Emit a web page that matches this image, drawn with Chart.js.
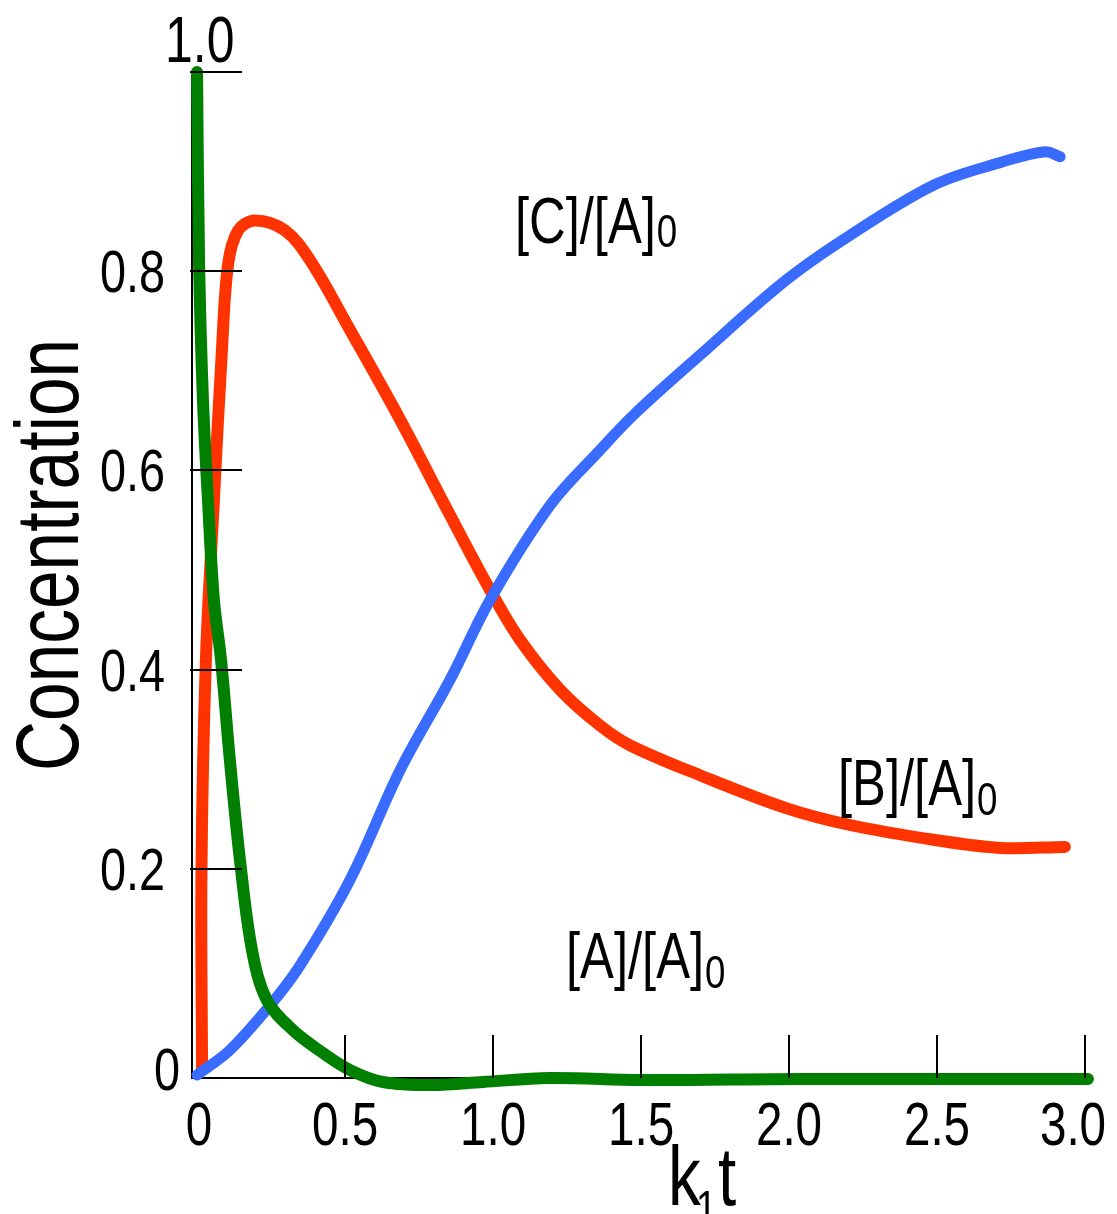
<!DOCTYPE html>
<html>
<head>
<meta charset="utf-8">
<script src="https://cdn.jsdelivr.net/npm/chart.js@4.4.0/dist/chart.umd.min.js"></script>
<style>
  html, body { margin: 0; padding: 0; background: #fff; }
  #wrap { position: relative; width: 1117px; height: 1214px; }
</style>
</head>
<body>
<div id="wrap"><canvas id="c"></canvas></div>
<script>
// ---- data ----
const tA = [0, 0.007, 0.02, 0.037, 0.057, 0.081, 0.111, 0.145, 0.186, 0.236, 0.324, 0.426, 0.517, 0.628, 0.797, 0.966, 1.19, 1.50, 2.04, 3.01];
const concA = [1.0, 0.807, 0.671, 0.570, 0.470, 0.41, 0.309, 0.209, 0.118, 0.068, 0.038, 0.015, -0.002, -0.014, -0.017, -0.014, -0.01, -0.012, -0.011, -0.011];

const tB = [0.017, 0.015, 0.030, 0.057, 0.084, 0.105, 0.139, 0.196, 0.297, 0.382, 0.517, 0.686, 0.855, 0.99, 1.091, 1.226, 1.361, 1.463, 1.699, 1.99, 2.206, 2.493, 2.713, 2.932];
const concB = [-0.002, 0.199, 0.41, 0.57, 0.72, 0.807, 0.841, 0.851, 0.841, 0.811, 0.741, 0.651, 0.555, 0.48, 0.43, 0.38, 0.344, 0.324, 0.294, 0.261, 0.244, 0.229, 0.221, 0.222];

const tC = [0, 0.111, 0.247, 0.348, 0.517, 0.686, 0.855, 0.99, 1.193, 1.36, 1.476, 1.70, 1.99, 2.206, 2.493, 2.713, 2.865, 2.916];
const concC = [-0.007, 0.018, 0.063, 0.103, 0.189, 0.299, 0.39, 0.47, 0.565, 0.62, 0.656, 0.716, 0.791, 0.836, 0.887, 0.909, 0.92, 0.915];

const xTicks = [0, 0.5, 1.0, 1.5, 2.0, 2.5, 3.0];
const xTickLabels = ['0', '0.5', '1.0', '1.5', '2.0', '2.5', '3.0'];
const yTicks = [0, 0.2, 0.4, 0.6, 0.8, 1.0];
const yTickLabels = ['0', '0.2', '0.4', '0.6', '0.8', '1.0'];

const seriesLabels = ['[A]/[A]', '[B]/[A]', '[C]/[A]'];
const subscriptText = '0';
const yTitle = 'Concentration';
const xTitleParts = ['k', '1', 't'];

// ---- helpers ----
const FONT = '"Liberation Sans", Arial, sans-serif';
const SX = 0.78; // condensed look

function pts(xs, ys) { return xs.map((v, i) => ({ x: v, y: ys[i] })); }

function txt(ctx, s, x, y, size, align) {
  ctx.save();
  ctx.font = size + 'px ' + FONT;
  ctx.textAlign = align || 'left';
  ctx.textBaseline = 'alphabetic';
  ctx.translate(x, y);
  ctx.scale(SX, 1);
  ctx.fillText(s, 0, 0);
  const w = ctx.measureText(s).width * SX;
  ctx.restore();
  return w;
}

function labelWithSub(ctx, main, sub, x, y, size, subSize, subDrop) {
  const w = txt(ctx, main, x, y, size, 'left');
  txt(ctx, sub, x + w + 1, y + subDrop, subSize, 'left');
}

const decor = {
  id: 'decor',
  afterDatasetsDraw(chart) {
    const { ctx, chartArea: a } = chart;
    const xs = chart.scales.x, ys = chart.scales.y;
    ctx.save();
    ctx.strokeStyle = '#000';
    ctx.lineWidth = 2;
    yTicks.forEach((v, i) => {
      if (i === 0) return;
      const py = Math.round(ys.getPixelForValue(v));
      ctx.beginPath();
      ctx.moveTo(a.left - 2, py);
      ctx.lineTo(a.left + 50, py);
      ctx.stroke();
    });
    xTicks.forEach((v, i) => {
      if (i === 0) return;
      const px = Math.round(xs.getPixelForValue(v));
      ctx.beginPath();
      ctx.moveTo(px, a.bottom);
      ctx.lineTo(px, a.bottom - 43);
      ctx.stroke();
    });
    ctx.restore();
  },
  afterDraw(chart) {
    const { ctx, chartArea: a } = chart;
    const xs = chart.scales.x, ys = chart.scales.y;
    ctx.save();
    ctx.fillStyle = '#000';
    // y tick labels
    yTicks.forEach((v, i) => {
      const py = ys.getPixelForValue(v);
      if (i === yTicks.length - 1) {
        txt(ctx, yTickLabels[i], a.left - 27, py - 10, 64, 'left');
      } else if (i === 0) {
        txt(ctx, yTickLabels[i], a.left - 12, py + 22, 60, 'right');
      } else {
        txt(ctx, yTickLabels[i], a.left - 27, py + 21, 60, 'right');
      }
    });
    // x tick labels
    xTicks.forEach((v, i) => {
      let px = xs.getPixelForValue(v);
      if (i === 0) px += 2;
      if (i === xTicks.length - 1) px -= 12;
      txt(ctx, xTickLabels[i], px, a.bottom + 67, 61, 'center');
    });
    // y title
    ctx.save();
    ctx.translate(78, 555);
    ctx.rotate(-Math.PI / 2);
    txt(ctx, yTitle, 0, 0, 89, 'center');
    ctx.restore();
    // x title k1t
    txt(ctx, xTitleParts[0], 668, 1205, 84, 'left');
    txt(ctx, xTitleParts[1], 696, 1224, 48, 'left');
    txt(ctx, xTitleParts[2], 718, 1205, 84, 'left');
    // series labels
    labelWithSub(ctx, seriesLabels[2], subscriptText, 515, 243, 65, 47, 4);
    labelWithSub(ctx, seriesLabels[1], subscriptText, 838, 805, 65, 47, 10);
    labelWithSub(ctx, seriesLabels[0], subscriptText, 566, 978, 65, 47, 10);
    ctx.restore();
  }
};

new Chart(document.getElementById('c'), {
  type: 'line',
  data: {
    datasets: [
      { label: 'A', data: pts(tA, concA), borderColor: '#007f00', borderWidth: 12 },
      { label: 'C', data: pts(tC, concC), borderColor: '#3a6bff', borderWidth: 11 },
      { label: 'B', data: pts(tB, concB), borderColor: '#ff3300', borderWidth: 12 }
    ]
  },
  options: {
    responsive: true,
    maintainAspectRatio: false,
    animation: false,
    devicePixelRatio: 1,
    layout: { padding: { left: 192, right: 32, top: 72, bottom: 136 } },
    elements: {
      point: { radius: 0 },
      line: { tension: 0.35, capBezierPoints: false, borderCapStyle: 'round', borderJoinStyle: 'round', fill: false }
    },
    datasets: { line: { clip: false } },
    plugins: { legend: { display: false }, tooltip: { enabled: false } },
    scales: {
      x: {
        type: 'linear', min: -0.017, max: 3.0,
        grid: { display: false, drawTicks: false },
        ticks: { display: false },
        border: { display: true, color: '#000', width: 2 }
      },
      y: {
        type: 'linear', min: -0.01, max: 1.0,
        grid: { display: false, drawTicks: false },
        ticks: { display: false },
        border: { display: true, color: '#000', width: 2 }
      }
    }
  },
  plugins: [decor]
});
</script>
</body>
</html>
